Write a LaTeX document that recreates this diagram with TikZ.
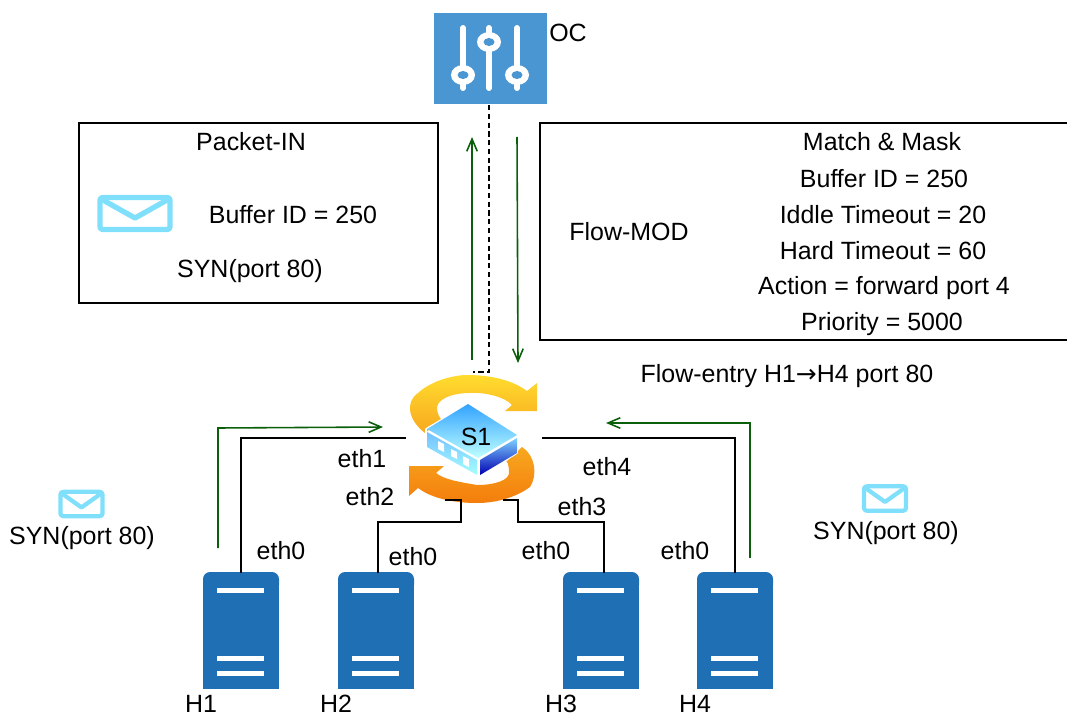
\documentclass[tikz,border=0pt]{standalone}
\usepackage{fontspec}
\setmainfont{Liberation Sans}
\newfontfamily\arrowfont{DejaVu Sans}
\usetikzlibrary{arrows.meta}
\definecolor{ocblue}{HTML}{4A96D3}
\definecolor{hostblue}{HTML}{1F6FB5}
\definecolor{mailblue}{HTML}{80DFFB}
\definecolor{flowgreen}{HTML}{0B5F0B}
\definecolor{loopyellow}{HTML}{FFDC2E}
\definecolor{loopmid}{HTML}{F8A81F}
\definecolor{looporange}{HTML}{F47D0C}

\begin{document}
\begin{tikzpicture}[x=0.02cm,y=-0.02cm]
            \tikzset{
            msg box/.style={draw,thick},
            lbl/.style={inner sep=0,font=\fontsize{14.2}{16}\selectfont},
            wire/.style={-,draw,thick},
            flow/.style={draw=flowgreen,line width=0.9pt,-{Straight Barb[length=7pt,width=6pt]}},
            host/.pic={
                \fill[hostblue,rounded corners=4pt] (-38,20) -- (-38,0) -- (38,0) -- (38,20) -- cycle;
                \fill[hostblue] (-38,10) rectangle (38,117);
                \fill[white] (-24,16) rectangle (23,21);
                \fill[white] (-24,84) rectangle (23,89);
                \fill[white] (-24,99) rectangle (23,104);
            },
            mail/.pic={
                \draw[mailblue,line width=#1,line join=round,fill=white,rounded corners=1.5pt] (-35,-16) rectangle (35,16);
                \draw[mailblue,line width=#1,line join=round] (-33,-14) -- (0,4.5) -- (33,-14);
            },
            slider/.pic={
                \draw[white,line width=3.4pt,line cap=round] (0,-30) -- (0,30);
                \fill[white] (0,#1) ellipse[x radius=12,y radius=10];
                \fill[ocblue] (0,#1) ellipse[x radius=5.5,y radius=4];
            }
            }
            \useasboundingbox (0,0) rectangle (1067,716);

            % controller
            \node[fill=ocblue,minimum width=113*0.02cm,minimum height=91*0.02cm,inner sep=0] (oc) at (490.5,58.5) {};
            \pic at (463,58) {slider=17};
            \pic at (489,58) {slider=-16};
            \pic at (517,58) {slider=17};
            \node[lbl] (oclabel) at (568,33) {OC};

            % boxes
            \node[msg box,minimum width=359*0.02cm,minimum height=180*0.02cm,inner sep=0] (packetin) at (258.5,213) {};
            \draw[msg box] (1067,123) -- (540,123) -- (540,340) -- (1067,340);
            \node[lbl] (pi1) at (251,142) {Packet-IN};
            \node[lbl] (pi2) at (293,215) {Buffer ID = 250};
            \node[lbl] (pi3) at (250,271.5) {SYN(port 80)};
            \pic at (135,213.5) {mail=3pt};
            \node[lbl] (fm0) at (629,232) {Flow-MOD};
            \node[lbl] (fm1) at (882,142) {Match \& Mask};
            \node[lbl] (fm2) at (884,179) {Buffer ID = 250};
            \node[lbl] (fm3) at (883,215) {Iddle Timeout = 20};
            \node[lbl] (fm4) at (883,251) {Hard Timeout = 60};
            \node[lbl] (fm5) at (884,288.5) {Action = forward port 4};
            \node[lbl] (fm6) at (882,324.5) {Priority = 5000};
            \node[lbl] (entry) at (787,376.5) {Flow-entry H1{\arrowfont →}H4 port 80};

            % switch
            \shade[top color=loopyellow,bottom color=loopmid] (425,433) .. controls (408,420) and (405,402) .. (418,393) .. controls (432,380) and (455,375) .. (467,375) .. controls (495,375) and (515,382) .. (527,391) -- (537,383) -- (537,411) -- (505,411) -- (512,405) .. controls (505,397) and (485,392) .. (470,393) .. controls (450,393) and (437,400) .. (437,408) .. controls (437,414) and (440,418) .. (442,420) -- cycle;
            \shade[top color=loopmid,bottom color=looporange] (522,447) .. controls (535,455) and (538,475) .. (530,487) .. controls (515,498) and (495,503) .. (477,503) .. controls (450,503) and (430,497) .. (418,488) -- (409,496) -- (409,466) -- (444,466) -- (436,473) .. controls (445,480) and (460,482) .. (477,485) .. controls (495,485) and (510,480) .. (509,472) .. controls (509,465) and (507,460) .. (506,462) -- cycle;
            \draw[white,line width=1pt,line join=round] (468,404) -- (517,435) -- (517,453) -- (479,476) -- (426,447) -- (426,429) -- cycle;
            \shade[top color=cyan!55!blue!80,bottom color=cyan!25] (468,404) -- (517,435) -- (478,458) -- (427,429) -- cycle;
            \shade[top color=blue!45!cyan!55,bottom color=cyan!35] (427,432) -- (477,460) -- (477,475) -- (427,447) -- cycle;
            \shade[top color=blue!35!cyan!50,bottom color=blue!70!black] (480,460) -- (517,438) -- (517,453) -- (480,475) -- cycle;
            \fill[white] (438,441) -- (444,444) -- (444,452) -- (438,449) -- cycle;
            \fill[white] (451,449) -- (457,452) -- (457,459) -- (451,456) -- cycle;
            \fill[white] (463,456) -- (469,459) -- (469,467) -- (463,464) -- cycle;
            \node[lbl] (s1) at (476,437) {S1};

            % hosts
            \pic at (241,572) {host};
            \pic at (376,572) {host};
            \pic at (601,572) {host};
            \pic at (735,572) {host};
            \coordinate (h1top) at (241,573);
            \coordinate (h2top) at (378,573);
            \coordinate (h3top) at (604,573);
            \coordinate (h4top) at (735,573);
            \coordinate (s1west) at (406,438);
            \coordinate (s1east) at (542,438);
            \coordinate (s1sw) at (445,500);
            \coordinate (s1se) at (503,500);
            \coordinate (ocbottom) at (489,105);
            \coordinate (s1top) at (473,372);
            \coordinate (h1green) at (218,548);
            \coordinate (s1greenw) at (383,427);
            \coordinate (h4green) at (750,558);
            \coordinate (s1greene) at (606,423);
            \coordinate (upstart) at (472,360);
            \coordinate (upend) at (472,137);
            \coordinate (downstart) at (517,137);
            \coordinate (downend) at (518,363);
            \node[lbl] (h1) at (201,704) {H1};
            \node[lbl] (h2) at (336,704) {H2};
            \node[lbl] (h3) at (561,704) {H3};
            \node[lbl] (h4) at (695,704) {H4};

            % links
            \path[wire]
            (h1top) -- (241,438) -- (s1west)
            (h2top) -- (378,522) -- (461,522) -- (461,500) -- (s1sw)
            (h3top) -- (604,522) -- (518,522) -- (518,500) -- (s1se)
            (h4top) -- (735,438) -- (s1east)
            ;
            \draw[thick,densely dashed] (ocbottom) -- (489,372) -- (s1top);
            \draw[flow] (h1green) -- (218,428) -- (s1greenw);
            \draw[flow] (h4green) -- (750,423) -- (s1greene);
            \draw[flow] (upstart) -- (upend);
            \draw[flow] (downstart) -- (downend);

            % port labels
            \node[lbl] (eth1) at (362,459) {eth1};
            \node[lbl] (eth2) at (370,497) {eth2};
            \node[lbl] (eth3) at (582,507) {eth3};
            \node[lbl] (eth4) at (607,467) {eth4};
            \node[lbl] (h1eth) at (281,551) {eth0};
            \node[lbl] (h2eth) at (413,557) {eth0};
            \node[lbl] (h3eth) at (546,551) {eth0};
            \node[lbl] (h4eth) at (685,551) {eth0};

            % messages
            \pic[xscale=0.6,yscale=0.76] at (81.5,504) {mail=2.4pt};
            \pic[xscale=0.6,yscale=0.76] at (885,498.5) {mail=2.4pt};
            \node[lbl] (syn1) at (82,538.5) {SYN(port 80)};
            \node[lbl] (syn4) at (886,533.5) {SYN(port 80)};
        \end{tikzpicture}
\end{document}
